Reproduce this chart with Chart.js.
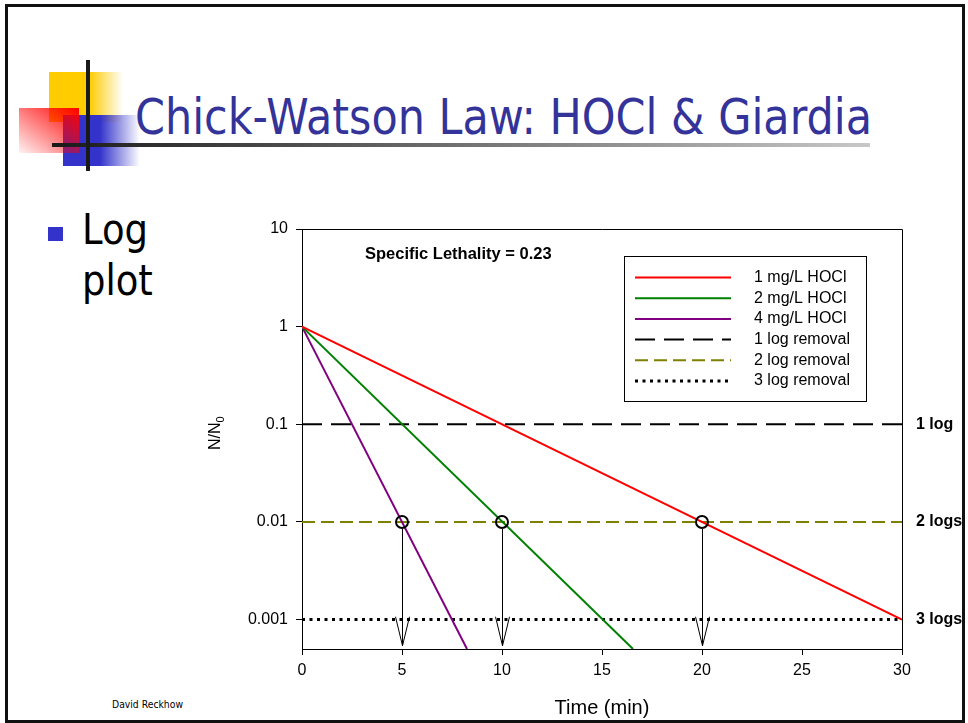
<html>
<head>
<script src="https://cdn.jsdelivr.net/npm/chart.js@4.4.1/dist/chart.umd.min.js"></script>
<style>
  body { margin: 0; width: 968px; height: 723px; overflow: hidden; background: #fff; position: relative; }
  .abs { position: absolute; }
  #frame { left: 5px; top: 4px; width: 954px; height: 713px; border: 3px solid #111; }
  #title { left: 135px; top: 87px; font-family: "DejaVu Sans", sans-serif; font-size: 50px; line-height: 60px;
           color: #333399; white-space: nowrap; transform-origin: left top; }
  #bullet { left: 48px; top: 227px; width: 15px; height: 14px; background: #3333cc; }
  #point { left: 82px; top: 204px; font-family: "DejaVu Sans", sans-serif; font-size: 43px; line-height: 51px;
           color: #000; transform-origin: left top; }
  #footer { left: 112px; top: 699px; font-family: "DejaVu Sans", sans-serif; font-size: 10px; color: #000;
            white-space: nowrap; transform-origin: left top; }
  #chart { position: absolute; left: 0; top: 0; z-index: 2; }
</style>
</head>
<body>
<div class="abs" id="frame"></div>
<!-- title block ornaments -->
<div class="abs" style="left:49px;top:72px;width:74px;height:50px;background:linear-gradient(to right,#ffcc00 0,#ffcc00 55%,rgba(255,204,0,0) 100%);"></div>
<div class="abs" style="left:63px;top:115px;width:77px;height:51px;background:linear-gradient(to right,#3333cc 0,#3333cc 48%,rgba(51,51,204,0) 100%);"></div>
<div class="abs" style="left:19px;top:108px;width:60px;height:45px;background:linear-gradient(to bottom left,#ff0000,rgba(255,0,0,0.05));"></div>
<div class="abs" style="left:52px;top:143px;width:818px;height:4px;background:linear-gradient(to right,#1a1a1a,#c8c8c8);"></div>
<div class="abs" style="left:86px;top:60px;width:4px;height:111px;background:#1a1a1a;"></div>
<div class="abs" id="title">Chick-Watson Law: HOCl &amp; Giardia</div>
<div class="abs" id="bullet"></div>
<div class="abs" id="point">Log<br>plot</div>
<div class="abs" id="footer">David Reckhow</div>
<canvas id="chart" width="968" height="723"></canvas>

<script>
// ---- data ----
var timeRed = [0, 30];
var nRed = [1, 0.001];
var timeGreen = [0, 16.55];
var nGreen = [1, 0.0005];
var timePurple = [0, 8.25];
var nPurple = [1, 0.0005];
var removalSpan = [0, 30];
var removalLevels = [0.1, 0.01, 0.001];
var removalTags = ["1 log", "2 logs", "3 logs"];
var markTimes = [5, 10, 20];
var markLevel = 0.01;
var arrowTip = 0.00054;
var xTicks = [0, 5, 10, 15, 20, 25, 30];
var yTicks = [0.001, 0.01, 0.1, 1, 10];
var seriesLabels = ["1 mg/L HOCl", "2 mg/L HOCl", "4 mg/L HOCl", "1 log removal", "2 log removal", "3 log removal"];
var lethalityText = "Specific Lethality = 0.23";

var FONT = "'Liberation Sans', Arial, sans-serif";

function pts(xs, ys) {
    return xs.map(function (v, i) { return { x: v, y: ys[i] }; });
}

// squeeze the Verdana-like font towards the Tahoma look of the slide
function fitWidth(id, w) {
    var el = document.getElementById(id);
    var r = el.getBoundingClientRect();
    el.style.transform = "scaleX(" + (w / r.width) + ")";
}
fitWidth("title", 737);
document.getElementById("point").style.transform = "scaleX(0.86)";
fitWidth("footer", 71);

var lineStyles = [
    { color: "#ff0000", dash: [], width: 2 },
    { color: "#008000", dash: [], width: 2 },
    { color: "#800080", dash: [], width: 2 },
    { color: "#000000", dash: [20, 9], width: 2 },
    { color: "#808000", dash: [13, 6], width: 2 },
    { color: "#000000", dash: [3, 4.5], width: 3 }
];

var seriesData = [
    pts(timeRed, nRed),
    pts(timeGreen, nGreen),
    pts(timePurple, nPurple),
    pts(removalSpan, [removalLevels[0], removalLevels[0]]),
    pts(removalSpan, [removalLevels[1], removalLevels[1]]),
    pts(removalSpan, [removalLevels[2], removalLevels[2]])
];

var datasets = [{
    label: "marks",
    data: markTimes.map(function (t) { return { x: t, y: markLevel }; }),
    showLine: false,
    pointRadius: 6,
    pointBorderWidth: 2,
    pointBorderColor: "#000",
    pointBackgroundColor: "rgba(0,0,0,0)"
}];
seriesLabels.forEach(function (lab, i) {
    datasets.push({
        label: lab,
        data: seriesData[i],
        borderColor: lineStyles[i].color,
        borderDash: lineStyles[i].dash,
        borderWidth: lineStyles[i].width,
        pointRadius: 0,
        fill: false
    });
});

var decor = {
    id: "decor",
    afterDatasetsDraw: function (chart) {
        var ctx = chart.ctx, a = chart.chartArea, x = chart.scales.x, y = chart.scales.y;
        ctx.save();
        ctx.strokeStyle = "#000";
        ctx.lineWidth = 1;
        // top and right frame
        ctx.beginPath();
        ctx.moveTo(a.left, a.top + 0.5);
        ctx.lineTo(a.right + 0.5, a.top + 0.5);
        ctx.lineTo(a.right + 0.5, a.bottom);
        ctx.stroke();

        // arrows from the marked points down to the axis
        markTimes.forEach(function (t) {
            var px = Math.round(x.getPixelForValue(t)) + 0.5;
            var y0 = y.getPixelForValue(markLevel) + 7;
            var y1 = y.getPixelForValue(arrowTip);
            ctx.beginPath();
            ctx.moveTo(px, y0);
            ctx.lineTo(px, y1);
            ctx.moveTo(px - 7, y1 - 29);
            ctx.lineTo(px, y1);
            ctx.lineTo(px + 7, y1 - 29);
            ctx.stroke();
        });

        // right hand labels
        ctx.fillStyle = "#000";
        ctx.font = "bold 16px " + FONT;
        ctx.textBaseline = "middle";
        ctx.textAlign = "left";
        removalLevels.forEach(function (v, i) {
            ctx.fillText(removalTags[i], a.right + 14, y.getPixelForValue(v));
        });

        // annotation
        ctx.font = "bold 16.5px " + FONT;
        ctx.fillText(lethalityText, a.left + 63, a.top + 25);

        // legend box
        var lx = a.left + 322, ly = a.top + 27, lw = 242, lh = 145;
        ctx.fillStyle = "#fff";
        ctx.fillRect(lx, ly, lw, lh);
        ctx.strokeRect(lx + 0.5, ly + 0.5, lw, lh);
        ctx.font = "16px " + FONT;
        ctx.fillStyle = "#000";
        seriesLabels.forEach(function (lab, i) {
            var ry = ly + 21.5 + i * 20.7;
            var s = lineStyles[i];
            ctx.save();
            ctx.strokeStyle = s.color;
            ctx.lineWidth = s.width;
            ctx.setLineDash(s.dash);
            ctx.beginPath();
            ctx.moveTo(lx + 11, ry);
            ctx.lineTo(lx + 107, ry);
            ctx.stroke();
            ctx.restore();
            ctx.fillText(lab, lx + 130, ry);
        });

        // y axis title N/N0 with a real subscript
        ctx.save();
        ctx.translate(y.left + 17, 450);
        ctx.rotate(-Math.PI / 2);
        ctx.textBaseline = "alphabetic";
        ctx.font = "16px " + FONT;
        ctx.fillText("N/N", 0, 0);
        var w = ctx.measureText("N/N").width;
        ctx.font = "11px " + FONT;
        ctx.fillText("0", w, 4);
        ctx.restore();

        ctx.restore();
    }
};

new Chart("chart", {
    type: "line",
    data: { datasets: datasets },
    options: {
        responsive: false,
        animation: false,
        devicePixelRatio: 1,
        layout: { padding: { left: 203, top: 229, right: 66, bottom: 3 } },
        plugins: { legend: { display: false }, tooltip: { enabled: false } },
        scales: {
            x: {
                type: "linear",
                min: 0,
                max: 30,
                afterBuildTicks: function (s) { s.ticks = xTicks.map(function (v) { return { value: v }; }); },
                afterFit: function (s) { s.height = 71; s.paddingLeft = 0; s.paddingRight = 0; },
                ticks: { font: { size: 16, family: FONT }, color: "#000", padding: 6, maxRotation: 0, autoSkip: false },
                grid: { drawOnChartArea: false, tickLength: 6, color: "#000" },
                border: { color: "#000" },
                title: { display: true, text: "Time (min)", font: { size: 20, family: FONT }, color: "#000", padding: 0 }
            },
            y: {
                type: "logarithmic",
                min: 0.0005,
                max: 10,
                afterBuildTicks: function (s) { s.ticks = yTicks.map(function (v) { return { value: v }; }); },
                afterFit: function (s) { s.width = 99; s.paddingTop = 0; s.paddingBottom = 0; },
                ticks: {
                    font: { size: 16, family: FONT }, color: "#000", padding: 8, autoSkip: false,
                    callback: function (v) { return String(v); }
                },
                grid: { drawOnChartArea: false, tickLength: 6, color: "#000" },
                border: { color: "#000" }
            }
        }
    },
    plugins: [decor]
});
</script>
</body>
</html>
